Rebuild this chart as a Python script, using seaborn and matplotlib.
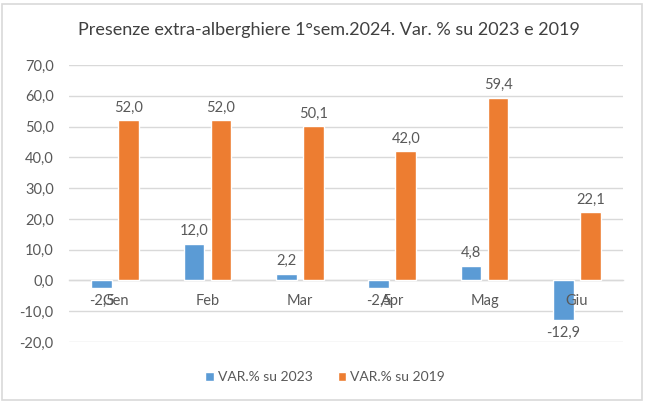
import matplotlib
matplotlib.use("Agg")
import matplotlib.pyplot as plt
import seaborn as sns
import pandas as pd
from matplotlib.patches import Rectangle
from matplotlib.ticker import FuncFormatter

months = ["Gen", "Feb", "Mar", "Apr", "Mag", "Giu"]
var_2023 = [-2.5, 12.0, 2.2, -2.5, 4.8, -12.9]
var_2019 = [52.0, 52.0, 50.1, 42.0, 59.4, 22.1]
series = ["VAR.% su 2023", "VAR.% su 2019"]
colors = ["#5B9BD5", "#ED7D31"]
title = "Presenze extra-alberghiere 1°sem.2024. Var. % su 2023 e 2019"

df = pd.DataFrame({
    "Mese": months * 2,
    "Valore": var_2023 + var_2019,
    "Serie": [series[0]] * len(months) + [series[1]] * len(months),
})

sns.set_theme(style="white")
plt.rcParams["font.family"] = ["Lato", "DejaVu Sans"]
txt = "#595959"
grid = "#d9d9d9"

fig = plt.figure(figsize=(6.47, 4.04), dpi=100)
ax = fig.add_axes([0.1066, 0.1535, 0.963 - 0.1066, 0.839 - 0.1535])

sns.barplot(data=df, x="Mese", y="Valore", hue="Serie", order=months,
            hue_order=series, palette=colors, width=0.585, gap=0.24,
            saturation=1, ax=ax, legend=True)

fmt = lambda v: f"{v:.1f}".replace(".", ",")
for cont in ax.containers:
    ax.bar_label(cont, labels=[fmt(v) for v in cont.datavalues],
                 padding=4, fontsize=10.5, color=txt)

ax.set_ylim(-20, 70)
ax.set_xlim(-0.5, 5.5)
ax.set_yticks(range(-20, 71, 10))
ax.yaxis.set_major_formatter(FuncFormatter(lambda v, p: fmt(v)))
ax.yaxis.grid(True, color=grid, linewidth=1)
ax.set_axisbelow(True)
ax.xaxis.set_zorder(3)
for s in ["left", "right", "top"]:
    ax.spines[s].set_visible(False)
ax.spines["bottom"].set_position(("data", 0))
ax.spines["bottom"].set_color(grid)
ax.spines["bottom"].set_linewidth(1)
ax.spines["bottom"].set_zorder(0.6)
ax.tick_params(axis="x", length=0, pad=10, labelsize=10.5, labelcolor=txt)
ax.tick_params(axis="y", length=0, pad=11, labelsize=10.5, labelcolor=txt)
ax.set_xlabel("")
ax.set_ylabel("")

leg = ax.legend(loc="center", bbox_to_anchor=(325 / 647, 1 - 377 / 404),
                bbox_transform=fig.transFigure, ncol=2, frameon=False,
                fontsize=10, handlelength=0.6, handleheight=0.6,
                handletextpad=0.3, columnspacing=1.8)
for t in leg.get_texts():
    t.set_color(txt)

fig.text(329 / 647, 1 - 30 / 404, title, ha="center", va="center",
         fontsize=13, color="#404040")
fig.patches.append(Rectangle((2 / 647, 4 / 404), 640 / 647, 396 / 404,
                             transform=fig.transFigure, fill=False,
                             edgecolor="#d9d9d9", linewidth=1.2))

fig.savefig("out.png", dpi=100)
